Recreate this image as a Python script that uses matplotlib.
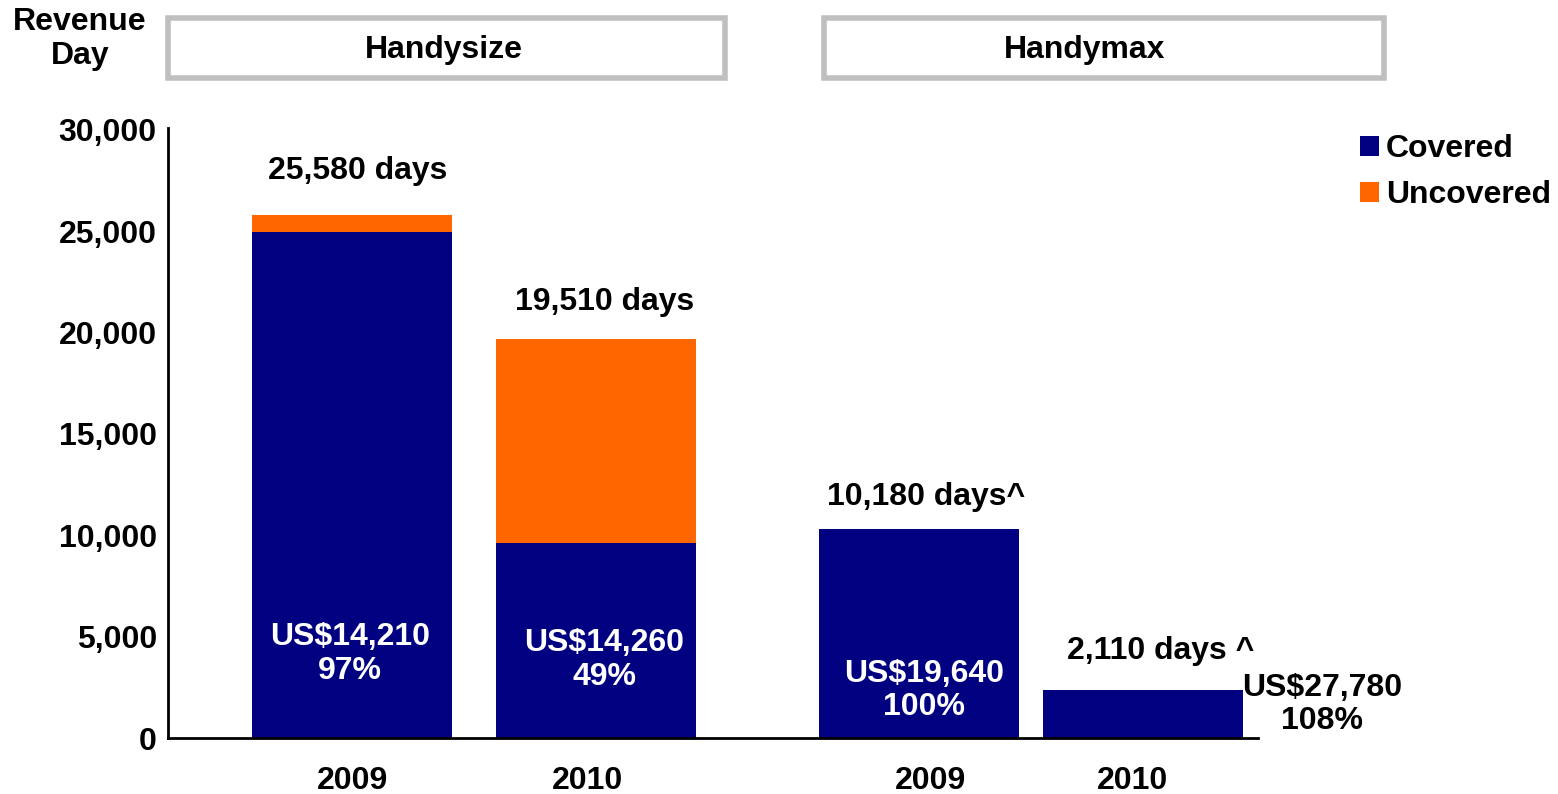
import matplotlib
matplotlib.use('Agg')
import matplotlib.pyplot as plt
from matplotlib.patches import FancyBboxPatch

# data
groups = ['Handysize', 'Handymax']
years = ['2009', '2010', '2009', '2010']
covered = [24950, 9620, 10310, 2370]
uncovered = [850, 10060, 0, 0]
day_labels = ['25,580 days', '19,510 days', '10,180 days^', '2,110 days ^']
rate_labels = ['US$14,210\n97%', 'US$14,260\n49%', 'US$19,640\n100%', 'US$27,780\n108%']
yticks = [0, 5000, 10000, 15000, 20000, 25000, 30000]

# layout (x in units of 200 px from the y axis)
bar_x = [0.92, 2.14, 3.755, 4.875]
tick_x = [0.92, 2.095, 3.81, 4.82]
day_offsets = [(4, 32), (6, 27), (5, 23), (13, 28)]
rate_pos = [(0.91, 4150), (2.18, 3850), (3.78, 2350), (5.77, 1650)]
rate_colors = ['white', 'white', 'white', 'black']

navy = '#000080'
orange = '#FF6600'
FS = 23

plt.rcParams['font.family'] = ['Liberation Sans', 'DejaVu Sans']
plt.rcParams['font.weight'] = 'bold'

fig = plt.figure(figsize=(15.58, 7.94), dpi=100)
ax = fig.add_axes([168 / 1558, 56 / 794, 1090 / 1558, 608 / 794])

b1 = ax.bar(bar_x, covered, width=1.0, color=navy, label='Covered')
b2 = ax.bar(bar_x, uncovered, width=1.0, bottom=covered, color=orange, label='Uncovered')

ax.set_xlim(0, 5.45)
ax.set_ylim(0, 30000)
ax.set_yticks(yticks)
ax.set_yticklabels([f'{v:,}' for v in yticks], fontsize=FS, fontweight='bold')
ax.set_xticks(tick_x)
ax.set_xticklabels(years, fontsize=FS, fontweight='bold')
ax.tick_params(axis='both', length=0)
ax.tick_params(axis='y', pad=8)
ax.tick_params(axis='x', pad=20)
for s in ['top', 'right']:
    ax.spines[s].set_visible(False)
ax.spines['left'].set_linewidth(2)
ax.spines['bottom'].set_linewidth(2)
ax.spines['left'].set_bounds(0, 30100)

totals = [c + u for c, u in zip(covered, uncovered)]
for x, t, lab, off in zip(bar_x, totals, day_labels, day_offsets):
    ax.annotate(lab, (x, t), xytext=off, textcoords='offset points',
                ha='center', va='center', fontsize=FS, fontweight='bold')

for (x, y), lab, c in zip(rate_pos, rate_labels, rate_colors):
    ax.text(x, y, lab, ha='center', va='center', fontsize=FS, fontweight='bold',
            color=c, linespacing=1.15, clip_on=False)

# header boxes
for (x0, x1), tx, name in zip([(168, 725), (824, 1384)], [444, 1085], groups):
    box = FancyBboxPatch((x0 / 1558, 1 - 78 / 794), (x1 - x0) / 1558, 60 / 794,
                         boxstyle='square,pad=0', transform=fig.transFigure,
                         facecolor='white', edgecolor='#BFBFBF', linewidth=4)
    fig.patches.append(box)
    fig.text(tx / 1558, 1 - 50 / 794, name, ha='center', va='center',
             fontsize=FS, fontweight='bold')

fig.text(80 / 1558, 1 - 39 / 794, 'Revenue\nDay', ha='center', va='center',
         fontsize=FS, fontweight='bold', linespacing=1.15)

leg = fig.legend(handles=[b1, b2], loc='upper left',
                 bbox_to_anchor=(1341 / 1558, 1 - 115 / 794), frameon=False,
                 handlelength=0.6, handleheight=0.6, handletextpad=0.2,
                 labelspacing=0.5, borderaxespad=0.2,
                 prop={'size': FS, 'weight': 'bold'})

fig.savefig('out.png', dpi=100, facecolor='white')
